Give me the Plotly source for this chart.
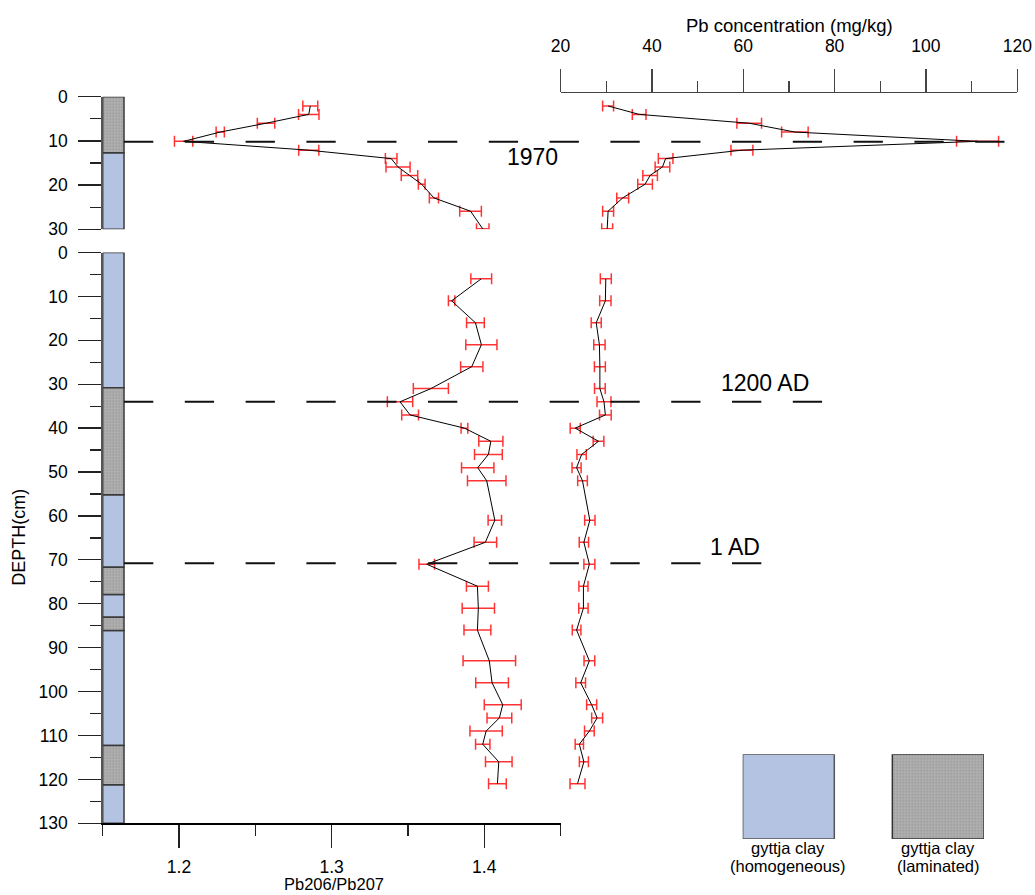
import plotly.graph_objects as go

W, H = 1035, 895
def px(x):
    return x / W
def py(y):
    return 1 - y / H

# ---------------- data ----------------
# upper core (0-30 cm)
top_depth = [2.1, 4.0, 6.0, 8.0, 10.1, 12.1, 14.0, 15.9, 17.8, 19.8, 22.9, 25.9, 29.9]
top_ratio = [1.286, 1.285, 1.257, 1.227, 1.203, 1.285, 1.339, 1.3435, 1.351, 1.359, 1.367, 1.391, 1.399]
top_ratio_err = [0.0049, 0.0067, 0.0057, 0.0027, 0.006, 0.0066, 0.0038, 0.0079, 0.0054, 0.0022, 0.003, 0.0071, 0.0041]
top_conc = [30.4, 37.2, 61.3, 71.3, 111.3, 59.7, 43.0, 42.3, 39.6, 38.5, 33.6, 30.4, 30.2]
top_conc_err = [1.2, 1.5, 2.7, 2.9, 4.6, 2.4, 1.6, 1.6, 1.6, 1.6, 1.3, 1.2, 1.2]

# lower core (0-130 cm)
bot_depth = [6, 11, 16, 21, 26, 31, 34, 37, 40, 43, 46, 49, 52, 61, 66, 71, 76, 81, 86,
             93, 98, 103, 106, 109, 112, 116, 121]
bot_ratio = [1.398, 1.3786, 1.3942, 1.3981, 1.3918, 1.365, 1.3448, 1.3514, 1.387, 1.4043,
             1.4027, 1.3957, 1.4016, 1.4069, 1.4007, 1.3623, 1.3955, 1.3961, 1.3955, 1.4033,
             1.4051, 1.4121, 1.4099, 1.4012, 1.399, 1.4095, 1.4086]
bot_ratio_err = [0.0068, 0.0021, 0.0058, 0.0102, 0.0073, 0.0115, 0.0083, 0.0055, 0.0022, 0.0079,
                 0.0091, 0.0106, 0.0126, 0.0044, 0.0074, 0.0051, 0.0072, 0.0106, 0.0088, 0.0172,
                 0.0107, 0.0121, 0.0081, 0.0106, 0.0047, 0.0087, 0.0058]
bot_conc = [29.9, 29.8, 27.8, 28.5, 28.6, 28.6, 29.5, 29.8, 23.2, 28.3, 24.6, 23.5, 24.8, 26.4,
            25.1, 26.3, 25.0, 25.0, 23.5, 26.3, 24.4, 26.8, 28.0, 26.3, 24.1, 25.1, 23.7]
bot_conc_err = [1.2, 1.24, 1.1, 1.24, 1.2, 1.17, 1.53, 1.28, 1.1, 1.17, 1.02, 0.99, 1.06, 1.13,
                1.02, 1.2, 0.99, 1.02, 0.95, 1.17, 1.06, 1.1, 1.2, 1.06, 0.91, 0.99, 1.64]

# lithology (top, bottom, type)  H = homogeneous, L = laminated
top_strata_top = [0, 12.7]
top_strata_bot = [12.7, 30]
top_strata_type = ["L", "H"]
bot_strata_top = [0, 30.8, 55.2, 71.7, 77.9, 83.1, 86.1, 112.3, 121.2]
bot_strata_bot = [30.8, 55.2, 71.7, 77.9, 83.1, 86.1, 112.3, 121.2, 130]
bot_strata_type = ["H", "L", "H", "L", "H", "L", "H", "L", "H"]

# dated horizons
event_depth = [10.2, 34.0, 70.8]
event_label = ["1970", "1200 AD", "1 AD"]
event_panel = ["top", "bottom", "bottom"]

ratio_ticks = [1.2, 1.3, 1.4]
ratio_minor = [1.15, 1.25, 1.35, 1.45]
conc_ticks = [20, 40, 60, 80, 100, 120]
conc_minor = [30, 50, 70, 90, 110]
top_depth_ticks = [0, 10, 20, 30]
top_depth_minor = [5, 15, 25]
bot_depth_ticks = list(range(0, 131, 10))
bot_depth_minor = list(range(5, 126, 10))

# ---------------- style ----------------
FONT = "Liberation Sans, Arial, sans-serif"
BLUE = "rgb(180,195,226)"
GRAY_BG = "#b2b2b2"
GRAY_FG = "#7c7c7c"
ERR = "rgba(255,0,0,0.8)"
COL_W = 0.01396  # column width in ratio units

fig = go.Figure()

def add_strata(tops, bots, types, yaxis):
    for kind in ["H", "L"]:
        yy = [(t + b) / 2 for t, b, k in zip(tops, bots, types) if k == kind]
        ww = [(b - t) for t, b, k in zip(tops, bots, types) if k == kind]
        if not yy:
            continue
        marker = dict(color=BLUE if kind == "H" else GRAY_BG,
                      line=dict(color="#3a3a3a", width=1.5))
        if kind == "L":
            marker["pattern"] = dict(shape=".", bgcolor=GRAY_BG, fgcolor=GRAY_FG,
                                     size=3, solidity=0.35, fillmode="overlay")
        fig.add_trace(go.Bar(orientation="h", y=yy, width=ww, x=[COL_W] * len(yy),
                             base=[1.15] * len(yy), marker=marker, xaxis="x", yaxis=yaxis,
                             showlegend=False, hoverinfo="skip"))

add_strata(top_strata_top, top_strata_bot, top_strata_type, "y2")
add_strata(bot_strata_top, bot_strata_bot, bot_strata_type, "y")

def add_series(xv, ev, yv, xaxis, yaxis):
    fig.add_trace(go.Scatter(
        x=xv, y=yv, mode="lines", xaxis=xaxis, yaxis=yaxis,
        line=dict(color="black", width=1),
        error_x=dict(type="data", array=ev, visible=True, color=ERR, thickness=1.5, width=5.5),
        cliponaxis=False, showlegend=False, hoverinfo="skip"))

add_series(top_ratio, top_ratio_err, top_depth, "x", "y2")
add_series(top_conc, top_conc_err, top_depth, "x2", "y2")
add_series(bot_ratio, bot_ratio_err, bot_depth, "x", "y")
add_series(bot_conc, bot_conc_err, bot_depth, "x2", "y")

# legend boxes (patterned, on a hidden helper axis)
fig.add_trace(go.Bar(x=[788.5], y=[1], width=[91.6], base=[0], xaxis="x3", yaxis="y3",
                     marker=dict(color=BLUE, line=dict(color="#555", width=1.5)),
                     showlegend=False, hoverinfo="skip"))
fig.add_trace(go.Bar(x=[938.2], y=[1], width=[91.7], base=[0], xaxis="x3", yaxis="y3",
                     marker=dict(color=GRAY_BG, line=dict(color="#333", width=1.5),
                                 pattern=dict(shape=".", bgcolor=GRAY_BG, fgcolor=GRAY_FG,
                                              size=3, solidity=0.35, fillmode="overlay")),
                     showlegend=False, hoverinfo="skip"))

# dated horizons: dashed lines
line_end_px = [1005, 822.7, 761.3]
label_pos_px = [(532.3, 156.7), (765, 382.7), (735, 546.7)]
shapes = []
annotations = []
for d, lab, pan, xe, (lx, ly) in zip(event_depth, event_label, event_panel, line_end_px, label_pos_px):
    shapes.append(dict(type="line", xref="paper", yref="y2" if pan == "top" else "y",
                       x0=px(124), x1=px(xe), y0=d, y1=d,
                       line=dict(color="#111", width=2, dash="29.3px,31.5px")))
    annotations.append(dict(text=lab, x=px(lx), y=py(ly), xref="paper", yref="paper",
                            showarrow=False, xanchor="center", yanchor="middle",
                            font=dict(size=23, color="black", family=FONT)))

def txt(t, x, y, size, angle=0, yanchor="middle"):
    annotations.append(dict(text=t, x=px(x), y=py(y), xref="paper", yref="paper",
                            showarrow=False, xanchor="center", yanchor=yanchor,
                            textangle=angle, font=dict(size=size, color="black", family=FONT)))

txt("Pb concentration (mg/kg)", 789, 25, 18.5)
txt("Pb206/Pb207", 333.5, 895, 16.5, yanchor="bottom")
txt("DEPTH(cm)", 18.3, 537.5, 18, -90)
txt("gyttja clay", 788.3, 848, 16.5)
txt("(homogeneous)", 788.3, 866, 16.5)
txt("gyttja clay", 938.3, 848, 16.5)
txt("(laminated)", 938.3, 866, 16.5)

AX = "#222"
tickfont = dict(size=17.5, color="black", family=FONT)

def yax(dom, rng, tv, mv):
    return dict(domain=dom, range=rng, anchor="x", tickvals=tv, ticktext=[str(v) for v in tv],
                ticks="outside", ticklen=23, tickwidth=1.3, tickcolor=AX,
                minor=dict(tickvals=mv, ticks="outside", ticklen=11, tickwidth=1.3,
                           tickcolor=AX, showgrid=False),
                showline=True, linecolor="#555", linewidth=1.5, automargin=False,
                showgrid=False, zeroline=False, tickfont=tickfont, ticklabelstandoff=7,
                fixedrange=True)

fig.update_layout(
    width=W, height=H, autosize=False,
    margin=dict(l=0, r=0, t=0, b=0, pad=0, autoexpand=False),
    paper_bgcolor="white", plot_bgcolor="rgba(0,0,0,0)",
    barmode="overlay", showlegend=False,
    font=dict(family=FONT, color="black"),
    xaxis=dict(domain=[px(102.7), px(560.6)], range=[1.15, 1.45], anchor="y", side="bottom",
               tickvals=ratio_ticks, ticktext=[f"{v:.1f}" for v in ratio_ticks],
               ticks="outside", ticklen=23, tickwidth=1.3, tickcolor=AX,
               minor=dict(tickvals=ratio_minor, ticks="outside", ticklen=11, tickwidth=1.3,
                          tickcolor=AX, showgrid=False),
               showline=True, linecolor="black", linewidth=1.3, automargin=False,
               showgrid=False, zeroline=False, tickfont=tickfont, ticklabelstandoff=4,
               fixedrange=True),
    xaxis2=dict(domain=[px(560.6), px(1017.3)], range=[20, 120], anchor="free",
                position=py(91.7), side="top",
                tickvals=conc_ticks, ticktext=[str(v) for v in conc_ticks],
                ticks="outside", ticklen=23, tickwidth=1.3, tickcolor="#444",
                minor=dict(tickvals=conc_minor, ticks="outside", ticklen=11, tickwidth=1.3,
                           tickcolor="#444", showgrid=False),
                showline=True, linecolor="#444", linewidth=1.3, automargin=False,
                showgrid=False, zeroline=False, tickfont=tickfont, ticklabelstandoff=10,
                fixedrange=True),
    yaxis=yax([py(823.3), py(252.5)], [130, 0], bot_depth_ticks, bot_depth_minor),
    yaxis2=yax([py(229.3), py(96.7)], [30, 0], top_depth_ticks, top_depth_minor),
    xaxis3=dict(domain=[px(742.7), px(984.0)], range=[742.7, 984.0], visible=False,
                anchor="y3", fixedrange=True, automargin=False),
    yaxis3=dict(domain=[py(839.0), py(754.3)], range=[0, 1], visible=False,
                anchor="x3", fixedrange=True, automargin=False),
    shapes=shapes,
    annotations=annotations,
)

fig.write_html("out.html", config={"displayModeBar": False, "staticPlot": True},
               post_script="document.body.style.margin='0px';")
